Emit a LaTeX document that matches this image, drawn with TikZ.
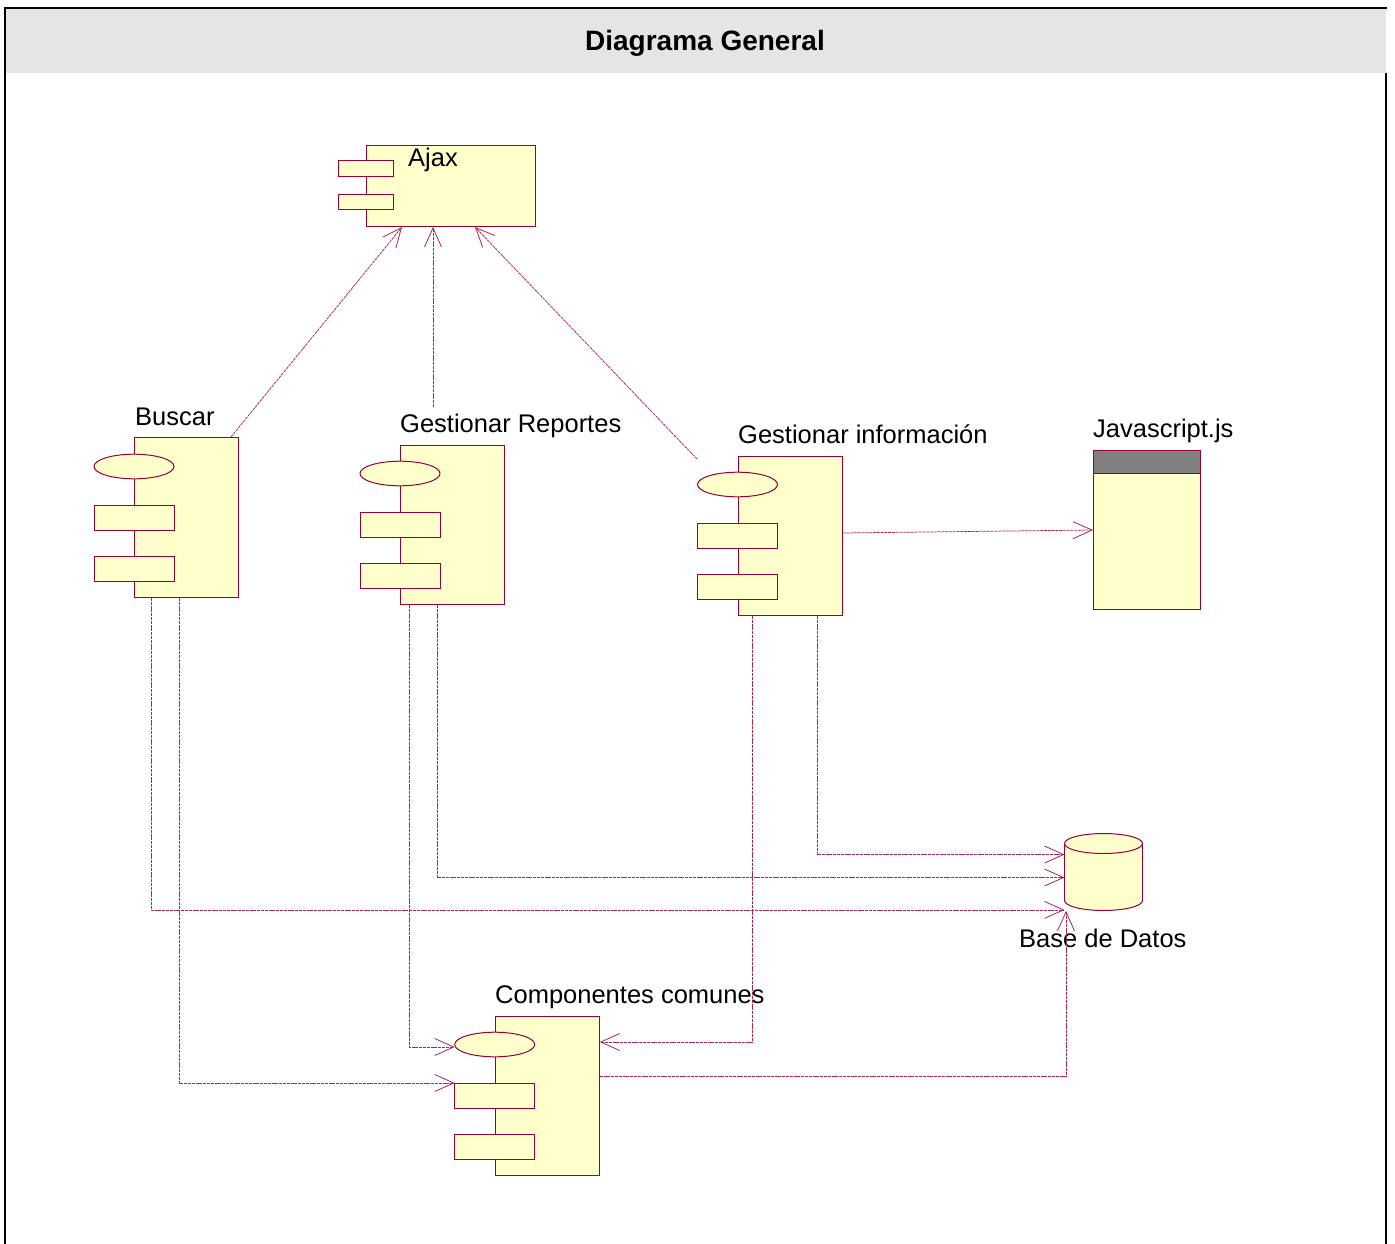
\documentclass[tikz,border=0pt]{standalone}
\usepackage{fontspec}
\setmainfont{Liberation Sans}
\usetikzlibrary{arrows.meta,calc}
\definecolor{rosec}{HTML}{990033}
\definecolor{ycream}{HTML}{FFFFCC}
\definecolor{headgray}{HTML}{E5E5E5}
\definecolor{bandgray}{HTML}{808080}
\tikzset{
  outl/.style={draw=rosec, line width=1pt},
  body/.style={outl, fill=ycream, rectangle, inner sep=0pt, anchor=north west},
  port/.style={outl, fill=ycream},
  dep/.style={draw=rosec!85, line width=0.75pt, dash pattern=on 3pt off 0.8pt,
              -{Straight Barb[length=19pt,width=17pt,line width=0.8pt]}},
  lbl/.style={font=\fontsize{25.5}{30}\selectfont, anchor=base west, inner sep=0pt},
}
\begin{document}
\begin{tikzpicture}[x=1pt, y=1pt, yscale=-1]
\useasboundingbox (0,0) rectangle (1395,1244);

% frame and title bar
\fill[headgray] (5,8) rectangle (1386,73);
\draw[line width=2.5pt] (5,1244) -- (5,8) -- (1387,8);
\draw[line width=2pt] (1386,73) -- (1386,1244);
\node[font=\bfseries\fontsize{28}{32}\selectfont, anchor=base, inner sep=0pt] (title) at (705,51) {Diagrama General};

% Ajax component
\node[body, minimum width=169pt, minimum height=81pt] (ajax) at (366,145) {};
\draw[port] (338,161) rectangle (393,176);
\draw[port] (338,194) rectangle (393,209);
\node[lbl] (ajaxlbl) at (408,167) {Ajax};

% Buscar component
\node[body, minimum width=104pt, minimum height=160pt] (buscar) at (134,437) {};
\draw[port] (134,466.5) ellipse [x radius=40, y radius=12.3];
\draw[port] (94,505) rectangle (174,530);
\draw[port] (94,556) rectangle (174,581);
\node[lbl] (buscarlbl) at (135,425) {Buscar};

% Gestionar Reportes component
\node[body, minimum width=104pt, minimum height=159pt] (reportes) at (400,445) {};
\draw[port] (400,473.5) ellipse [x radius=40, y radius=12.3];
\draw[port] (360,512) rectangle (440,537);
\draw[port] (360,563) rectangle (440,588);
\node[lbl] (reporteslbl) at (400,432) {Gestionar Reportes};

% Gestionar información component
\node[body, minimum width=104pt, minimum height=159pt] (info) at (737.5,456) {};
\draw[port] (737.5,484.5) ellipse [x radius=40, y radius=12.3];
\draw[port] (697.5,523) rectangle (777.5,548);
\draw[port] (697.5,574) rectangle (777.5,599);
\node[lbl] (infolbl) at (738,443) {Gestionar información};

% Componentes comunes component
\node[body, minimum width=104pt, minimum height=159pt] (comunes) at (494.7,1016) {};
\draw[port] (494.7,1044.5) ellipse [x radius=40, y radius=12.3];
\draw[port] (454.7,1083) rectangle (534.7,1108);
\draw[port] (454.7,1134) rectangle (534.7,1159);
\node[lbl] (comuneslbl) at (495,1003) {Componentes comunes};

% Javascript.js file
\node[body, minimum width=107pt, minimum height=159pt] (js) at (1093,450) {};
\draw[outl, fill=bandgray] (1093,450) rectangle (1200,473.5);
\node[lbl] (jslbl) at (1093,437) {Javascript.js};

% Base de Datos cylinder
\node[rectangle, inner sep=0pt, minimum width=78pt, minimum height=77pt, anchor=north west] (bd) at (1064.5,833.5) {};
\draw[port] (1103.5,900.5) ellipse [x radius=39, y radius=10];
\fill[ycream] (1064.5,843.5) rectangle (1142.5,900.5);
\draw[outl] (1064.5,843.5) -- (1064.5,900.5);
\draw[outl] (1142.5,843.5) -- (1142.5,900.5);
\draw[port] (1103.5,843.5) ellipse [x radius=39, y radius=10];
\node[lbl] (bdlbl) at (1019,947) {Base de Datos};

% dependencies towards Ajax
\draw[dep] ($(buscar.north west)+(97,0)$) -- ($(ajax.south west)+(36,0)$);
\draw[dep] ($(reportes.north west)+(33,-38)$) -- ($(ajax.south west)+(67,0)$);
\draw[dep] ($(info.north west)+(-40.5,3)$) -- ($(ajax.south west)+(109,0)$);

% dependency towards Javascript.js
\draw[dep] ($(info.north east)+(0,77)$) -- ($(js.north west)+(0,80)$);

% dependencies towards Base de Datos
\draw[dep] ($(info.south west)+(79.5,0)$) |- ($(bd.north west)+(0,21)$);
\draw[dep] ($(reportes.south west)+(37,0)$) |- ($(bd.north west)+(0,44)$);
\draw[dep] ($(buscar.south west)+(17,0)$) |- ($(bd.south west)+(0,-1)$);
\draw[dep] ($(comunes.north east)+(0,60)$) -| ($(bd.south west)+(1.5,0)$);

% dependencies towards Componentes comunes
\draw[dep] ($(buscar.south west)+(45,0)$) |- ($(comunes.north west)+(-40,67)$);
\draw[dep] ($(reportes.south west)+(9,0)$) |- ($(comunes.north west)+(-40,31)$);
\draw[dep] ($(info.south west)+(14.5,0)$) |- ($(comunes.north east)+(0,26)$);
\end{tikzpicture}
\end{document}
